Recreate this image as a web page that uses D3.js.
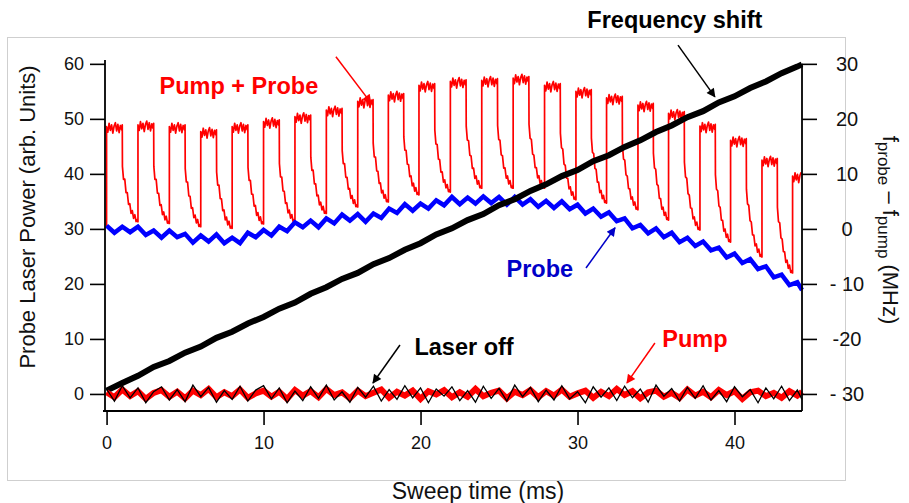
<!DOCTYPE html>
<html>
<head>
<meta charset="utf-8">
<script src="https://cdn.jsdelivr.net/npm/d3@7"></script>
<style>
  body { margin:0; background:#fff; }
  svg { font-family:'Liberation Sans', Arial, sans-serif; }
</style>
</head>
<body>
<script>
// ---- data ----
// sample grid (ms) shared by the noisy traces
var sampleTimes = d3.range(0, 44.01, 0.5).concat([44.3]);

// Probe only (blue), arb. units
var probeValues = [30.6,29.3,30.4,29.4,30.4,28.9,29.7,28.4,29.7,28.5,
                   29.1,27.5,28.8,27.7,29.0,27.4,28.4,27.4,29.3,28.5,
                   29.8,28.8,30.4,29.6,31.2,30.3,31.5,30.3,31.9,31.0,
                   32.6,31.5,32.7,31.3,32.8,32.0,33.7,32.9,34.5,33.3,
                   34.6,33.7,35.2,34.3,35.8,34.5,35.7,34.6,35.9,34.7,
                   35.8,34.4,35.8,34.4,35.4,34.0,35.1,33.8,35.0,33.6,
                   34.4,32.8,33.7,32.2,33.0,31.4,31.9,30.1,30.7,29.2,
                   30.1,28.5,29.3,27.6,28.4,26.9,27.7,26.1,26.6,24.8,
                   25.5,23.8,24.5,22.7,23.2,21.2,21.7,19.8,20.3,18.9];

// Pump only (red, near zero)
var pumpValues = [0.3,-0.6,0.8,-0.4,0.5,-0.9,0.2,0.7,-0.5,0.4,
                  -0.8,0.6,-0.2,0.9,-0.6,0.3,-0.4,0.8,-0.7,0.1,
                  0.6,-0.5,0.4,-0.9,0.7,-0.3,0.5,-0.6,0.9,-0.2,
                  0.3,-0.8,0.6,-0.4,0.2,0.8,-0.7,0.4,-0.3,0.6,
                  -0.9,0.5,-0.1,0.7,-0.6,0.3,-0.5,0.9,-0.4,0.2,
                  0.6,-0.8,0.4,-0.2,0.7,-0.6,0.5,-0.3,0.8,-0.5,
                  0.1,0.6,-0.7,0.4,-0.4,0.9,-0.2,0.5,-0.8,0.3,
                  0.6,-0.5,0.2,-0.7,0.8,-0.3,0.4,-0.6,0.7,-0.2,
                  0.5,-0.9,0.3,0.6,-0.4,0.2,-0.7,0.5,-0.3,0.4];

// Laser off (black, near zero)
var laserOffValues = [0.9,-1.3,1.5,-0.7,1.1,-1.6,0.4,1.3,-1.1,0.8,
                      -1.4,1.6,-0.5,1.2,-1.5,0.6,-1.0,1.4,-1.3,0.7,
                      1.5,-0.9,1.1,-1.6,0.5,-1.2,1.3,-0.8,1.6,-1.1,
                      0.4,-1.5,1.2,-0.6,1.4,-1.3,0.8,-1.0,1.5,-0.7,
                      1.1,-1.6,0.9,-0.4,1.3,-1.2,0.6,-1.5,1.4,-0.8,
                      1.0,-1.3,1.6,-0.5,1.2,-1.4,0.7,-1.1,1.5,-0.9,
                      0.4,-1.6,1.3,-0.6,1.1,-1.2,1.4,-0.7,0.9,-1.5,
                      1.6,-0.4,1.0,-1.3,1.2,-0.8,1.5,-1.1,0.6,-1.4,
                      1.3,-0.5,0.8,-1.6,1.1,-0.9,1.4,-1.2,0.7,-1.0];

// Frequency shift (black, right axis, MHz) every 1 ms
var freqTimes = d3.range(0, 44.5, 1).concat([44.3]);
var freqValues = [-29.4,-28.0,-26.7,-25.1,-24.0,-22.5,-21.4,-19.8,-18.7,-17.2,
                  -16.0,-14.5,-13.4,-11.8,-10.6,-9.1,-8.0,-6.4,-5.3,-3.8,
                  -2.6,-1.0,0.1,1.6,2.7,4.3,5.4,6.9,8.1,9.6,
                  10.7,12.3,13.4,14.9,16.1,17.6,18.8,20.3,21.4,23.0,
                  24.1,25.6,26.8,28.3,29.5,29.9];

// Pump + Probe (red square wave): cycle start times, plateau tops, end-of-cycle troughs
var ppStartLevel = 30.5;
var ppStarts = [0, 2.0, 4.0, 6.0, 8.0, 10.0, 12.0, 14.0, 16.0, 17.95, 19.9, 21.9,
                23.9, 25.9, 27.9, 29.9, 31.85, 33.85, 35.8, 37.8, 39.75, 41.75, 43.7];
var ppPeaks = [48.3, 48.6, 48.3, 47.4, 48.3, 49.2, 50.1, 51.3, 52.9, 54.0, 55.8, 56.5,
               56.7, 57.1, 55.8, 54.7, 53.5, 52.2, 50.7, 48.4, 45.8, 42.2, 39.3];
var ppTroughs = [31.3, 31.0, 30.4, 30.1, 30.9, 31.3, 32.8, 34.0, 34.9, 36.2, 36.7,
                 37.4, 37.4, 37.4, 35.3, 34.7, 33.5, 31.6, 29.8, 27.6, 24.9, 22.0];
// shape of one cycle: fraction of the cycle, level between trough (0) and top (1), ripple
var ppShapeU = [0, 0.04, 0.08, 0.12, 0.16, 0.2, 0.24, 0.28, 0.32, 0.36, 0.4, 0.44, 0.48, 0.5,
                0.505, 0.54, 0.58, 0.62, 0.66, 0.7, 0.74, 0.78, 0.82, 0.86, 0.9, 0.94, 0.97, 0.99];
var ppShapeF = [1, 1, 1, 1, 1, 1, 1, 1, 1, 1, 1, 1, 1, 1,
                0.58, 0.50, 0.42, 0.34, 0.27, 0.22, 0.17, 0.13, 0.09, 0.06, 0.04, 0.02, 0.01, 0];
var ppShapeRipple = [0.3,-0.7,0.9,-0.4,0.6,-0.9,0.4,1.0,-0.5,0.7,-0.8,0.5,-0.3,0.6,
                     0.2,-0.8,0.6,-0.5,0.7,-0.6,0.4,-0.7,0.5,-0.4,0.6,-0.3,0.2,0];

// axes
var xTicks = [0, 10, 20, 30, 40];
var leftTicks = [0, 10, 20, 30, 40, 50, 60];
var rightTicks = [-30, -20, -10, 0, 10, 20, 30];
var rightTickLabels = ['- 30', '-20', '- 10', '0', '10', '20', '30'];

// ---- drawing ----
var svg = d3.select('body')
            .append('svg')
            .attr('width', 909)
            .attr('height', 503);

var xScale = d3.scaleLinear().domain([-0.1, 44.3]).range([105, 802]);
var yScale = d3.scaleLinear().domain([-3.1, 60.7]).range([411, 60]);
var yRight = d3.scaleLinear().domain([-33.1, 30.7]).range([411, 60]);

svg.append('rect')
   .attr('x', 7.5).attr('y', 37.5)
   .attr('width', 838).attr('height', 443)
   .attr('fill', 'none')
   .attr('stroke', '#cfcfcf');

var build_pump_probe = function(){
  var pts = [];
  var prev = ppStartLevel;
  ppStarts.forEach(function(t0, k){
    var period = k < ppStarts.length - 1 ? ppStarts[k+1] - t0 : t0 - ppStarts[k-1];
    var top = ppPeaks[k];
    var bottom = ppTroughs[k] !== undefined ? ppTroughs[k] : top;
    pts.push([t0, prev]);
    ppShapeU.forEach(function(u, j){
      var t = t0 + u * period;
      if (t > 44.3) return;
      pts.push([t, bottom + ppShapeF[j] * (top - bottom) + ppShapeRipple[j]]);
    });
    prev = bottom;
  });
  return pts;
};

var pair = function(times, values){
  return values.slice(0, times.length).map(function(v, i){ return [times[i], v]; });
};

var line = d3.line()
             .x(function(d){ return xScale(d[0]); })
             .y(function(d){ return yScale(d[1]); });
var lineRight = d3.line()
                  .x(function(d){ return xScale(d[0]); })
                  .y(function(d){ return yRight(d[1]); });

var traces = svg.append('g').classed('traces', true);

traces.append('path')
      .attr('d', line(build_pump_probe()))
      .attr('fill', 'none').attr('stroke', '#ff0000')
      .attr('stroke-width', 1.7).attr('stroke-linejoin', 'round');
traces.append('path')
      .attr('d', line(pair(sampleTimes, probeValues)))
      .attr('fill', 'none').attr('stroke', '#0000ff')
      .attr('stroke-width', 4.5);
traces.append('path')
      .attr('d', lineRight(pair(freqTimes, freqValues)))
      .attr('fill', 'none').attr('stroke', '#000')
      .attr('stroke-width', 6);
traces.append('path')
      .attr('d', line(pair(sampleTimes, pumpValues)))
      .attr('fill', 'none').attr('stroke', '#ff0000')
      .attr('stroke-width', 6);
traces.append('path')
      .attr('d', line(pair(sampleTimes, laserOffValues)))
      .attr('fill', 'none').attr('stroke', '#000')
      .attr('stroke-width', 1.3);

// axes
var axisColor = '#000';
var leftAxis = svg.append('g')
                  .attr('transform', 'translate(' + xScale.range()[0] + ',0)')
                  .call(d3.axisLeft(yScale).tickValues(leftTicks).tickSize(15).tickPadding(6));
var rightAxis = svg.append('g')
                   .attr('transform', 'translate(' + xScale.range()[1] + ',0)')
                   .call(d3.axisRight(yRight).tickValues(rightTicks).tickSize(15)
                           .tickFormat(function(d, i){ return rightTickLabels[i]; }));
var bottomAxis = svg.append('g')
                    .attr('transform', 'translate(0,' + yScale.range()[0] + ')')
                    .call(d3.axisBottom(xScale).tickValues(xTicks).tickSize(14).tickPadding(11));

[leftAxis, rightAxis, bottomAxis].forEach(function(g){
  g.select('.domain').remove();
  g.selectAll('line').attr('stroke', axisColor).attr('stroke-width', 1.6);
  g.selectAll('text').attr('fill', '#111').style('font-family', "'Liberation Sans', Arial, sans-serif");
});
leftAxis.selectAll('text').style('font-size', '18px');
bottomAxis.selectAll('text').style('font-size', '18px');
rightAxis.selectAll('text')
         .style('font-size', '20px')
         .attr('x', 45)
         .attr('text-anchor', 'middle');

var frame = svg.append('g').attr('stroke', axisColor).attr('stroke-width', 1.8);
frame.append('line')
     .attr('x1', xScale.range()[0]).attr('x2', xScale.range()[0])
     .attr('y1', yScale.range()[1]).attr('y2', yScale.range()[0]);
frame.append('line')
     .attr('x1', xScale.range()[1]).attr('x2', xScale.range()[1])
     .attr('y1', yRight(30)).attr('y2', yScale.range()[0]);
frame.append('line')
     .attr('x1', xScale.range()[0] - 2).attr('x2', xScale.range()[1])
     .attr('y1', yScale.range()[0]).attr('y2', yScale.range()[0]);

// axis titles
svg.append('text')
   .attr('text-anchor', 'middle')
   .attr('transform', 'translate(35,217) rotate(-90)')
   .style('font-size', '22px')
   .attr('fill', '#111')
   .text('Probe Laser Power  (arb. Units)');
svg.append('text')
   .attr('text-anchor', 'middle')
   .attr('x', 478).attr('y', 499)
   .style('font-size', '23px')
   .attr('fill', '#111')
   .text('Sweep time (ms)');

var rightTitle = svg.append('text')
                    .attr('text-anchor', 'middle')
                    .attr('transform', 'translate(883,230) rotate(90)')
                    .attr('fill', '#111')
                    .style('font-size', '22px');
rightTitle.append('tspan').text('f');
rightTitle.append('tspan').attr('dy', 5).style('font-size', '17px').text('probe');
rightTitle.append('tspan').attr('dy', -5).text(' \u2013 f');
rightTitle.append('tspan').attr('dy', 5).style('font-size', '17px').text('pump');
rightTitle.append('tspan').attr('dy', -5).text(' (MHz)');

// annotations (positions in data units: ms, left-axis units)
var defs = svg.append('defs');
['#ff0000', '#000000', '#0000c8'].forEach(function(c){
  defs.append('marker')
      .attr('id', 'arrow' + c.slice(1))
      .attr('viewBox', '0 0 10 10')
      .attr('refX', 9).attr('refY', 5)
      .attr('markerUnits', 'userSpaceOnUse')
      .attr('markerWidth', 11).attr('markerHeight', 9)
      .attr('orient', 'auto')
      .append('path')
      .attr('d', 'M0,0 L10,5 L0,10 z')
      .attr('fill', c);
});

var labels = [
  {text:'Pump + Probe', color:'#ff0000', t:8.43, v:54.5},
  {text:'Frequency shift', color:'#000000', t:36.2, v:66.5},
  {text:'Probe', color:'#0000c8', t:27.6, v:21.25},
  {text:'Laser off', color:'#000000', t:22.77, v:7.08},
  {text:'Pump', color:'#ff0000', t:37.48, v:8.53}
];
var arrows = [
  {color:'#ff0000', from:[14.61, 61.3], to:[16.84, 52.9]},
  {color:'#000000', from:[36.4, 63.4], to:[38.75, 54.0]},
  {color:'#0000c8', from:[30.54, 22.9], to:[32.39, 30.2]},
  {color:'#000000', from:[18.69, 8.9], to:[16.97, 2.0]},
  {color:'#ff0000', from:[34.93, 9.26], to:[33.15, 2.0]}
];

svg.append('g').selectAll('text')
   .data(labels)
   .enter()
   .append('text')
   .attr('x', function(d){ return xScale(d.t); })
   .attr('y', function(d){ return yScale(d.v); })
   .attr('text-anchor', 'middle')
   .attr('fill', function(d){ return d.color; })
   .style('font-size', '23.5px')
   .style('font-weight', 'bold')
   .text(function(d){ return d.text; });

svg.append('g').selectAll('line')
   .data(arrows)
   .enter()
   .append('line')
   .attr('x1', function(d){ return xScale(d.from[0]); })
   .attr('y1', function(d){ return yScale(d.from[1]); })
   .attr('x2', function(d){ return xScale(d.to[0]); })
   .attr('y2', function(d){ return yScale(d.to[1]); })
   .attr('stroke', function(d){ return d.color; })
   .attr('stroke-width', 1.5)
   .attr('marker-end', function(d){ return 'url(#arrow' + d.color.slice(1) + ')'; });
</script>
</body>
</html>
